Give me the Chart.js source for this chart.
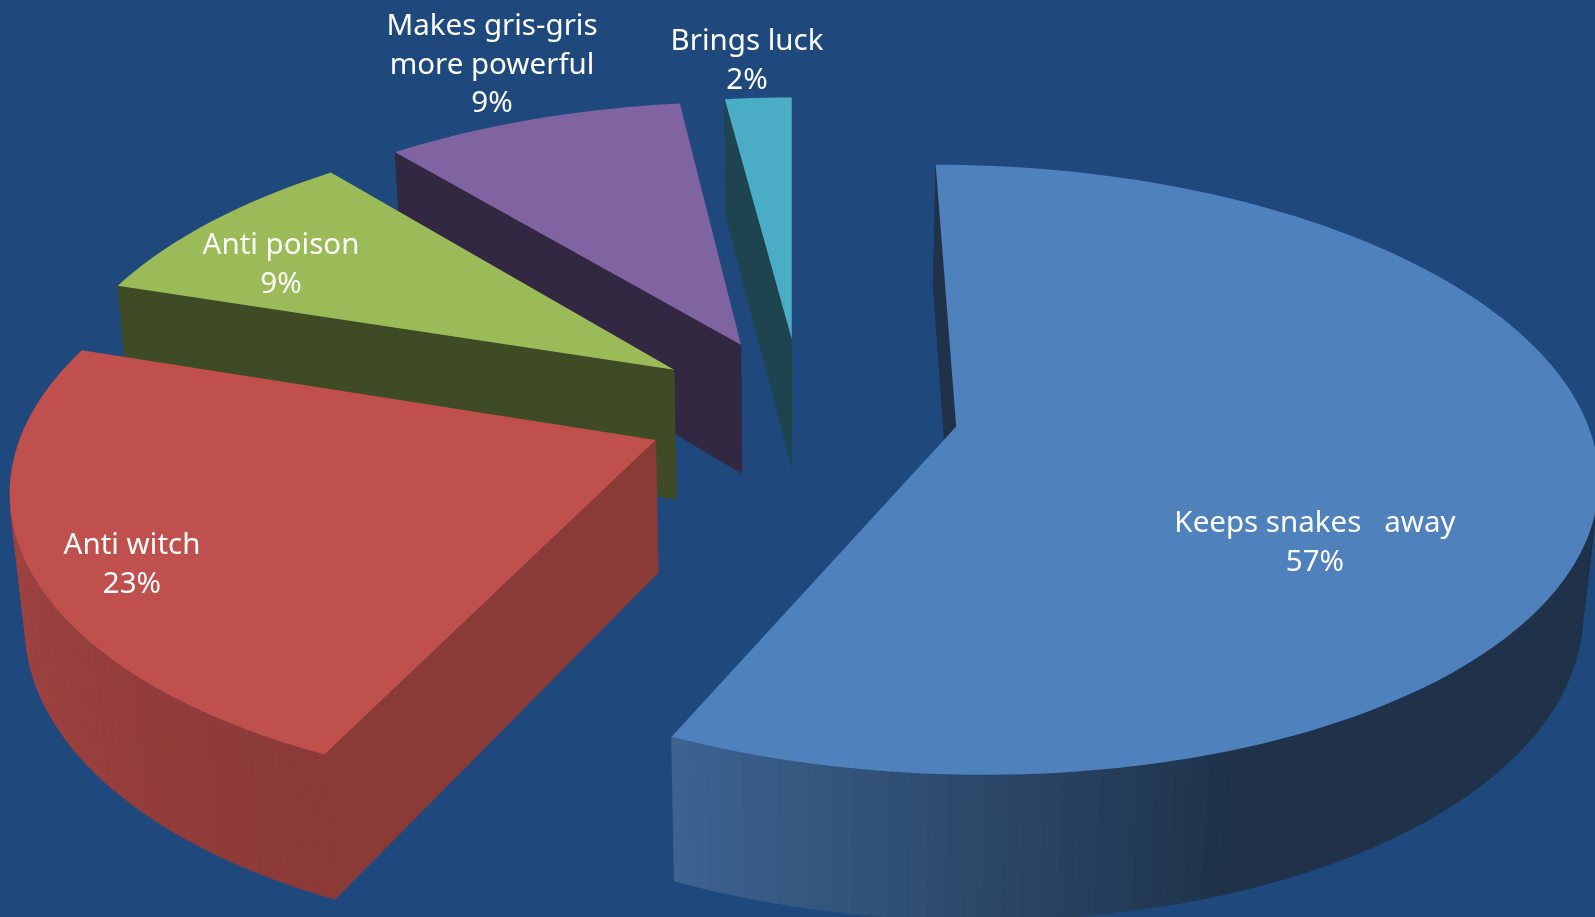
<!DOCTYPE html>
<html>
<head>
<meta charset="utf-8">
<style>
html,body{margin:0;padding:0;background:#1f497d;overflow:hidden}
canvas{display:block}
</style>
<script src="https://cdn.jsdelivr.net/npm/chart.js@4/dist/chart.umd.js"></script>
</head>
<body>
<div style="width:1595px;height:917px"><canvas id="pie" width="1595" height="917"></canvas></div>
<script>
const categories = ['Keeps snakes   away', 'Anti witch', 'Anti poison', ['Makes gris-gris', 'more powerful'], 'Brings luck'];
const shares = [57, 23, 9, 9, 2];
const sliceColors = ['#4f81bd', '#c0504d', '#9bbb59', '#8064a2', '#4bacc6'];
const explodeOffset = 102;

// Brightness of the flat radial side of each slice.
const sideShade = [0.39, 0.72, 0.40, 0.40, 0.40];
// Brightness of the curved rim: [clockwise degrees from 12 o'clock, factor].
const rimShade = [
  [[160, 0.39], [205, 0.77]],
  [[205, 0.72], [285, 0.90]],
  [[285, 0.60], [318, 0.60]],
  [[318, 0.60], [353, 0.60]],
  [[353, 0.60], [360, 0.60]]
];
// Centre of each label's first line, in canvas pixels.
const labelAnchors = [[1315, 524], [132, 546], [281, 246], [492, 27], [747, 42]];
const labelFont = '29.5px "Noto Sans"';
const lineGap = 38.5;

// Camera used to lay the flat pie down as a thick tilted disc.
const camera = {
  vanishX: 791.4, horizonY: -1681, lateral: 164.8, spanX: 633, spanY: 2110,
  tilt: 0.142, depthW: 0.02, depthY: 177, originX: -0.244, originY: -0.063
};

function project(u, v, low) {
  const X = u + camera.originX, Y = v + camera.originY;
  const w = 1 - camera.tilt * Y + (low ? camera.depthW : 0);
  return [
    camera.vanishX + (camera.lateral + camera.spanX * X) / w,
    camera.horizonY + (camera.spanY + (low ? camera.depthY : 0)) / w
  ];
}

function shade(hex, f) {
  const n = parseInt(hex.slice(1), 16);
  const c = [n >> 16, (n >> 8) & 255, n & 255].map(v => Math.round(v * f));
  return `rgb(${c[0]},${c[1]},${c[2]})`;
}

function rimFactor(stops, deg) {
  if (deg <= stops[0][0]) return stops[0][1];
  const last = stops[stops.length - 1];
  if (deg >= last[0]) return last[1];
  const t = (deg - stops[0][0]) / (last[0] - stops[0][0]);
  return stops[0][1] + t * (last[1] - stops[0][1]);
}

function fillPoly(ctx, pts, color, seam) {
  ctx.beginPath();
  pts.forEach((p, i) => i ? ctx.lineTo(p[0], p[1]) : ctx.moveTo(p[0], p[1]));
  ctx.closePath();
  ctx.fillStyle = color;
  ctx.fill();
  if (seam) {
    ctx.strokeStyle = color;
    ctx.lineWidth = 0.8;
    ctx.stroke();
  }
}

function facesViewer(pts) {
  let s = 0;
  pts.forEach((p, i) => {
    const q = pts[(i + 1) % pts.length];
    s += p[0] * q[1] - q[0] * p[1];
  });
  return s < 0;
}

function drawWall(ctx, a, b, color) {
  const quad = [project(a[0], a[1]), project(b[0], b[1]), project(b[0], b[1], true), project(a[0], a[1], true)];
  if (facesViewer(quad)) fillPoly(ctx, quad, color, true);
}

function drawSlice(ctx, arc, index) {
  const R = arc.outerRadius;
  const mid = (arc.startAngle + arc.endAngle) / 2;
  const off = (arc.options.offset || 0) / R;
  const ax = off * Math.cos(mid), ay = off * Math.sin(mid);
  const base = arc.options.backgroundColor;
  const rim = [];
  const steps = Math.max(2, Math.ceil((arc.endAngle - arc.startAngle) / (Math.PI / 120)));
  for (let i = 0; i <= steps; i++) {
    const t = arc.startAngle + (arc.endAngle - arc.startAngle) * i / steps;
    rim.push([ax + Math.cos(t), ay + Math.sin(t), (t + Math.PI / 2) * 180 / Math.PI]);
  }
  const apex = [ax, ay];
  drawWall(ctx, apex, rim[0], shade(base, sideShade[index]));
  drawWall(ctx, rim[steps], apex, shade(base, sideShade[index]));
  for (let i = 0; i < steps; i++) {
    const deg = (rim[i][2] + rim[i + 1][2]) / 2;
    drawWall(ctx, rim[i], rim[i + 1], shade(base, rimFactor(rimShade[index], deg)));
  }
  const top = [project(apex[0], apex[1])].concat(rim.map(p => project(p[0], p[1])));
  fillPoly(ctx, top, base, false);
}

const tiltedPie = {
  id: 'tiltedPie',
  beforeDraw(chart) {
    chart.ctx.fillStyle = '#1f497d';
    chart.ctx.fillRect(0, 0, chart.width, chart.height);
  },
  beforeDatasetsDraw(chart) {
    const ctx = chart.ctx;
    const arcs = chart.getDatasetMeta(0).data;
    ctx.save();
    [4, 3, 2, 1, 0].forEach(i => drawSlice(ctx, arcs[i], i));
    ctx.fillStyle = '#ffffff';
    ctx.font = labelFont;
    ctx.textAlign = 'center';
    ctx.textBaseline = 'middle';
    const total = shares.reduce((a, b) => a + b, 0);
    categories.forEach((name, i) => {
      const lines = [].concat(name, Math.round(shares[i] / total * 100) + '%');
      lines.forEach((line, k) => {
        ctx.fillText(line, labelAnchors[i][0], labelAnchors[i][1] + k * lineGap);
      });
    });
    ctx.restore();
    return false;
  }
};

new Chart(document.getElementById('pie'), {
  type: 'pie',
  data: {
    labels: categories,
    datasets: [{ data: shares, backgroundColor: sliceColors, offset: explodeOffset, borderWidth: 0 }]
  },
  options: {
    responsive: false,
    animation: false,
    devicePixelRatio: 1,
    layout: { padding: 0 },
    plugins: { legend: { display: false }, tooltip: { enabled: false } }
  },
  plugins: [tiltedPie]
});
</script>
</body>
</html>
